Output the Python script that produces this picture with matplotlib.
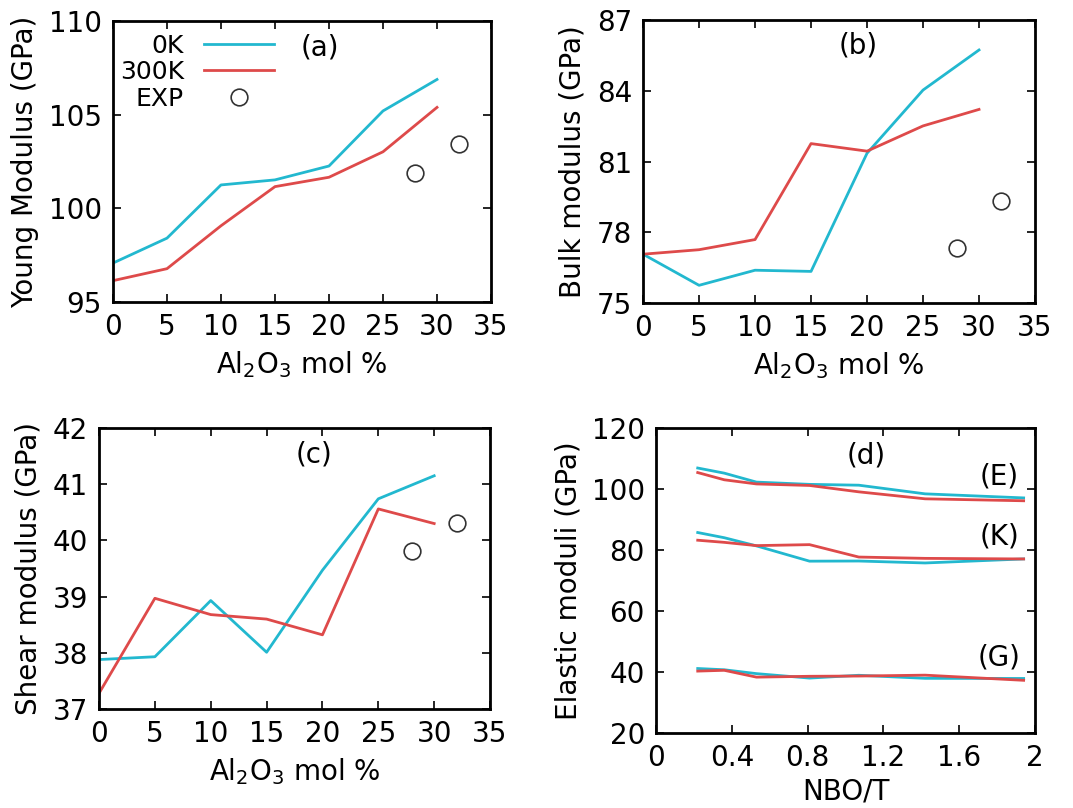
import numpy as np
import matplotlib.pyplot as plt
from matplotlib.ticker import FuncFormatter

# Al2O3 content (mol %) and the matching NBO/T of each glass
al2o3 = [0, 5, 10, 15, 20, 25, 30]
nbo_t = [1.94, 1.42, 1.07, 0.81, 0.53, 0.36, 0.22]

# Young modulus (GPa)
young_0k = [97.08, 98.41, 101.25, 101.52, 102.26, 105.2, 106.88]
young_300k = [96.14, 96.78, 99.07, 101.16, 101.66, 103.02, 105.39]
young_exp_x = [28, 32]
young_exp = [101.9, 103.43]

# Bulk modulus (GPa)
bulk_0k = [77.07, 75.75, 76.39, 76.34, 81.35, 84.03, 85.73]
bulk_300k = [77.07, 77.26, 77.69, 81.76, 81.44, 82.51, 83.21]
bulk_exp_x = [28, 32]
bulk_exp = [77.35, 79.32]

# Shear modulus (GPa)
shear_0k = [37.88, 37.93, 38.93, 38.01, 39.47, 40.74, 41.15]
shear_300k = [37.28, 38.97, 38.68, 38.60, 38.32, 40.56, 40.30]
shear_exp_x = [28, 32]
shear_exp = [39.81, 40.31]

cyan = '#22b8cf'
red = '#de4a4a'
fs = 20

plt.rcParams['font.family'] = 'DejaVu Sans'
fig = plt.figure(figsize=(10.73, 8.08), dpi=100)

ax_a = fig.add_axes([0.1053, 0.6262, 0.3523, 0.3478])
ax_b = fig.add_axes([0.5993, 0.6250, 0.3653, 0.3502])
ax_c = fig.add_axes([0.0923, 0.1225, 0.3644, 0.3478])
ax_d = fig.add_axes([0.6114, 0.0928, 0.3532, 0.3775])


def style(ax):
    for s in ax.spines.values():
        s.set_linewidth(2)
    ax.tick_params(direction='in', length=6, width=1.2, top=True, right=True,
                   labelsize=fs, pad=8)


def composition_panel(ax, y0k, y300k, xexp, yexp, ylim, yticks, ylabel, tag, tagy):
    l0, = ax.plot(al2o3, y0k, color=cyan, lw=2, label='0K')
    l3, = ax.plot(al2o3, y300k, color=red, lw=2, label='300K')
    le, = ax.plot(xexp, yexp, 'o', ms=12, mfc='none', mec='#333333', mew=1.2,
                  label='EXP')
    ax.set_xlim(0, 35)
    ax.set_xticks(range(0, 36, 5))
    ax.set_ylim(*ylim)
    ax.set_yticks(yticks)
    ax.set_xlabel(r'Al$_2$O$_3$ mol %', fontsize=fs, labelpad=6)
    ax.set_ylabel(ylabel, fontsize=fs, labelpad=7)
    ax.text(19.2, tagy, tag, fontsize=fs, ha='center', va='center')
    style(ax)
    return l0, l3, le


handles = composition_panel(ax_a, young_0k, young_300k, young_exp_x, young_exp,
                            (95, 110), [95, 100, 105, 110],
                            'Young Modulus (GPa)', '(a)', 108.6)
composition_panel(ax_b, bulk_0k, bulk_300k, bulk_exp_x, bulk_exp,
                  (75, 87), [75, 78, 81, 84, 87],
                  'Bulk modulus (GPa)', '(b)', 85.9)
composition_panel(ax_c, shear_0k, shear_300k, shear_exp_x, shear_exp,
                  (37, 42), [37, 38, 39, 40, 41, 42],
                  'Shear modulus (GPa)', '(c)', 41.53)

ax_a.legend(handles=handles, loc='upper right', bbox_to_anchor=(0.426, 0.955),
            frameon=False, markerfirst=False, fontsize=18, handlelength=2.8,
            handletextpad=0.8, labelspacing=0.1, borderpad=0, borderaxespad=0,
            numpoints=1)

# elastic moduli against NBO/T
for y0k, y300k in [(young_0k, young_300k), (bulk_0k, bulk_300k),
                   (shear_0k, shear_300k)]:
    ax_d.plot(nbo_t, y0k, color=cyan, lw=2)
    ax_d.plot(nbo_t, y300k, color=red, lw=2)
ax_d.set_xlim(0, 2)
ax_d.set_xticks(np.arange(0, 2.01, 0.4))
ax_d.xaxis.set_major_formatter(FuncFormatter(lambda v, p: '%g' % round(v, 1)))
ax_d.set_ylim(20, 120)
ax_d.set_yticks(range(20, 121, 20))
ax_d.set_xlabel('NBO/T', fontsize=fs, labelpad=4)
ax_d.set_ylabel('Elastic moduli (GPa)', fontsize=fs, labelpad=7)
ax_d.text(1.11, 111, '(d)', fontsize=fs, ha='center', va='center')
ax_d.text(1.81, 104, '(E)', fontsize=fs, ha='center', va='center')
ax_d.text(1.81, 84.5, '(K)', fontsize=fs, ha='center', va='center')
ax_d.text(1.81, 44.6, '(G)', fontsize=fs, ha='center', va='center')
style(ax_d)

fig.savefig('out.png', dpi=100)
